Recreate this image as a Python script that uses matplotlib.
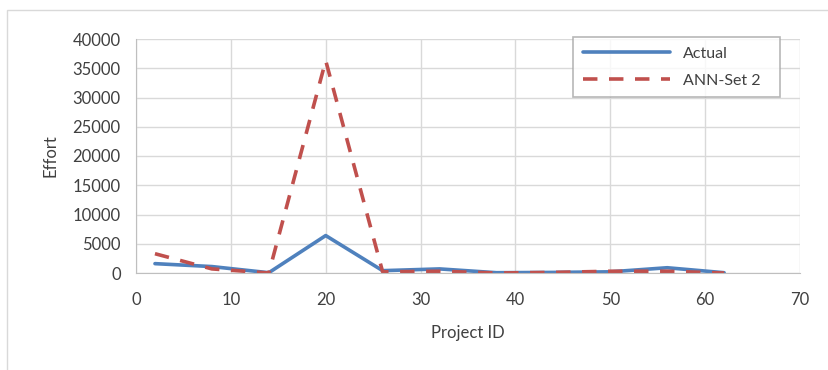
import matplotlib.pyplot as plt
from matplotlib.patches import Rectangle

plt.rcParams['font.family'] = ['Lato', 'DejaVu Sans']

project_id = [2, 8, 14, 20, 26, 32, 38, 44, 50, 56, 62]
actual = [1600, 1100, 50, 6400, 400, 700, 50, 100, 200, 900, 50]
ann_set2 = [3300, 700, 0, 36300, 200, 300, 0, 100, 300, 300, 0]

fig = plt.figure(figsize=(8.29, 3.70), dpi=100)
ax = fig.add_axes([136/829, 1 - 273/370, (800-136)/829, (273-39)/370])

# outer chart frame
fig.patches.append(Rectangle((7/829, -0.1), 1.2, (360/370) + 0.1, transform=fig.transFigure,
                             fill=False, edgecolor='#d9d9d9', linewidth=1))

ax.plot(project_id, actual, color='#4F81BD', lw=2.6, label='Actual', solid_capstyle='round')
ax.plot(project_id, ann_set2, color='#C0504D', lw=2.6, ls=(0, (4, 3.2)), label='ANN-Set 2')

ax.set_xlim(0, 70)
ax.set_ylim(0, 40000)
ax.set_xticks(range(0, 71, 10))
ax.set_yticks(range(0, 40001, 5000))
ax.grid(True, color='#d9d9d9', lw=1)
ax.set_axisbelow(True)
ax.tick_params(length=0, labelsize=12, colors='#404040')
ax.tick_params(axis='y', pad=11)
ax.tick_params(axis='x', pad=14)
for s in ['top', 'right']:
    ax.spines[s].set_visible(False)
for s in ['left', 'bottom']:
    ax.spines[s].set_color('#bfbfbf')

ax.set_xlabel('Project ID', fontsize=12, color='#404040', labelpad=12)
ax.set_ylabel('Effort', fontsize=12, color='#404040', labelpad=10)

leg = ax.legend(loc='upper left', bbox_to_anchor=((573-136)/664, 1 - (97-39)/234, (780-573)/664, 60/234),
                mode='expand', fontsize=11.5, frameon=True, fancybox=False, handlelength=5.5,
                labelspacing=0.8, borderpad=0.6, handletextpad=0.8, borderaxespad=0)
leg.get_frame().set_edgecolor('#a6a6a6')
leg.get_frame().set_linewidth(1.2)
for t in leg.get_texts():
    t.set_color('#404040')

fig.savefig('out.png', dpi=100)
